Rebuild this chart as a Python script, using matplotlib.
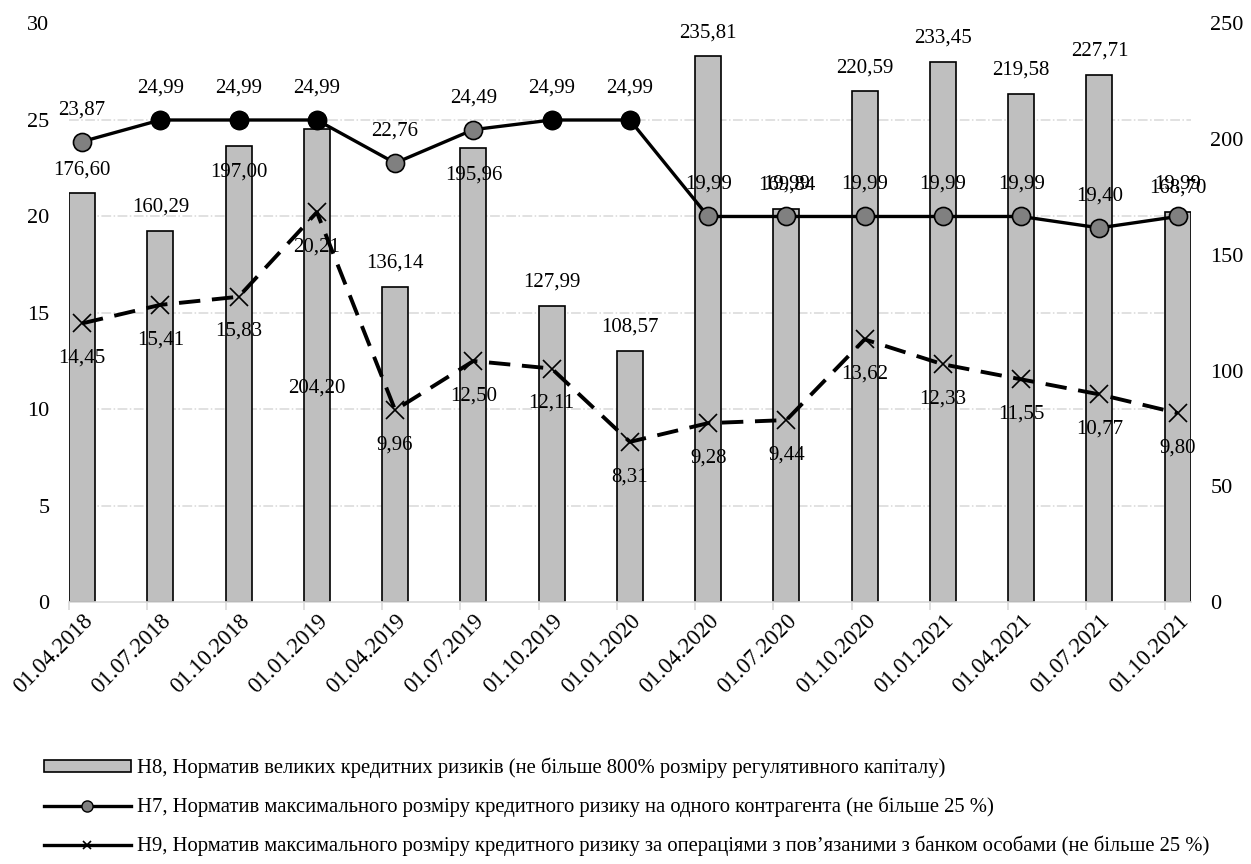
import matplotlib
matplotlib.use("Agg")
import matplotlib.pyplot as plt
from matplotlib.lines import Line2D
from matplotlib.patches import Patch
import numpy as np

plt.rcParams['font.family'] = ['Liberation Serif', 'DejaVu Serif']

#----------------------------------data-----------------------------------------
dates = ["01.04.2018", "01.07.2018", "01.10.2018", "01.01.2019", "01.04.2019",
         "01.07.2019", "01.10.2019", "01.01.2020", "01.04.2020", "01.07.2020",
         "01.10.2020", "01.01.2021", "01.04.2021", "01.07.2021", "01.10.2021"]
h8 = [176.60, 160.29, 197.00, 204.20, 136.14, 195.96, 127.99, 108.57,
      235.81, 169.84, 220.59, 233.45, 219.58, 227.71, 168.70]
h7 = [23.87, 24.99, 24.99, 24.99, 22.76, 24.49, 24.99, 24.99,
      19.99, 19.99, 19.99, 19.99, 19.99, 19.40, 19.99]
h9 = [14.45, 15.41, 15.83, 20.21, 9.96, 12.50, 12.11, 8.31,
      9.28, 9.44, 13.62, 12.33, 11.55, 10.77, 9.80]

lab_h8 = "Н8, Норматив великих кредитних ризиків (не більше 800% розміру регулятивного капіталу)"
lab_h7 = "Н7, Норматив максимального розміру кредитного ризику на одного контрагента (не більше 25 %)"
lab_h9 = "Н9, Норматив максимального розміру кредитного ризику за операціями з пов’язаними з банком особами (не більше 25 %)"

# bar label offsets (points), default is above the bar
bar_lab_off = {2: -19, 3: -186, 5: -19}

def fmt(v):
    return "{0:.2f}".format(v).replace(".", ",")

#----------------------------------figure-----------------------------------------
fig = plt.figure(figsize=(12.51, 8.64), dpi=100)
ax = fig.add_axes([0.055, 0.303, 0.897, 0.670])
x = np.arange(len(dates))
w = 0.33

ax.bar(x, h8, width=w, color='#bfbfbf', edgecolor='black', linewidth=1.2, zorder=2)
ax.set_ylim(0, 250)
ax.set_xlim(-w / 2 - 0.005, len(dates) - 1 + w / 2 + 0.005)
ax.set_yticks(np.arange(0, 251, 50))
ax.set_yticks(np.linspace(0, 250, 7), minor=True)
ax.yaxis.grid(True, which='minor', color='#d9d9d9', linestyle='-.', linewidth=1.1)
ax.yaxis.grid(False, which='major')
ax.set_axisbelow(True)

for i, v in enumerate(h8):
    off = bar_lab_off.get(i, 17)
    ax.annotate(fmt(v), (x[i], v), xytext=(0, off), textcoords='offset points',
                ha='center', va='center', fontsize=15, zorder=5)

axl = ax.twinx()
axl.plot(x, h7, '-', color='black', lw=2.4, marker='o', ms=13,
         mfc='#808080', mec='black', mew=1.2, zorder=4)
top = [i for i, v in enumerate(h7) if v == max(h7)]
axl.plot(x[top], [h7[i] for i in top], 'o', ms=13, mfc='black', mec='black', zorder=5)
axl.plot(x, h9, color='black', lw=2.8, linestyle=(0, (5.5, 3)), marker='x', ms=13,
         mew=1.2, zorder=4)
axl.set_ylim(0, 30)
axl.set_yticks(np.arange(0, 31, 5))

for i, v in enumerate(h7):
    axl.annotate(fmt(v), (x[i], v), xytext=(0, 23), textcoords='offset points',
                 ha='center', va='center', fontsize=15)
for i, v in enumerate(h9):
    axl.annotate(fmt(v), (x[i], v), xytext=(0, -25), textcoords='offset points',
                 ha='center', va='center', fontsize=15)

# axes cosmetics
ax.yaxis.tick_right()
axl.yaxis.tick_left()
for a in (ax, axl):
    for s in ('top', 'left', 'right'):
        a.spines[s].set_visible(False)
    a.tick_params(axis='y', which='both', length=0, labelsize=16)
axl.spines['bottom'].set_visible(False)
ax.spines['bottom'].set_color('#d9d9d9')
ax.spines['bottom'].set_linewidth(1.2)
ax.tick_params(axis='y', pad=14)
axl.tick_params(axis='y', pad=14)

ax.set_xticks(x)
ax.set_xticklabels(dates, rotation=45, ha='right', rotation_mode='anchor', fontsize=16.5)
ax.tick_params(axis='x', which='major', length=0, pad=6)
ax.set_xticks(x - w / 2, minor=True)
ax.tick_params(axis='x', which='minor', length=6, color='#d9d9d9', width=1.2)

# legend
handles = [Patch(facecolor='#bfbfbf', edgecolor='black', linewidth=1.2),
           Line2D([], [], color='black', lw=2.4, marker='o', ms=8, mfc='#808080', mec='black'),
           Line2D([], [], color='black', lw=2.4, marker='x', ms=6, mew=1.2)]
fig.legend(handles, [lab_h8, lab_h7, lab_h9], loc='center left',
           bbox_to_anchor=(0.02, 0.066), frameon=False, fontsize=14.9,
           handlelength=4.2, handleheight=0.5, handletextpad=0.3, labelspacing=0.9)

fig.savefig("out.png", dpi=100)
